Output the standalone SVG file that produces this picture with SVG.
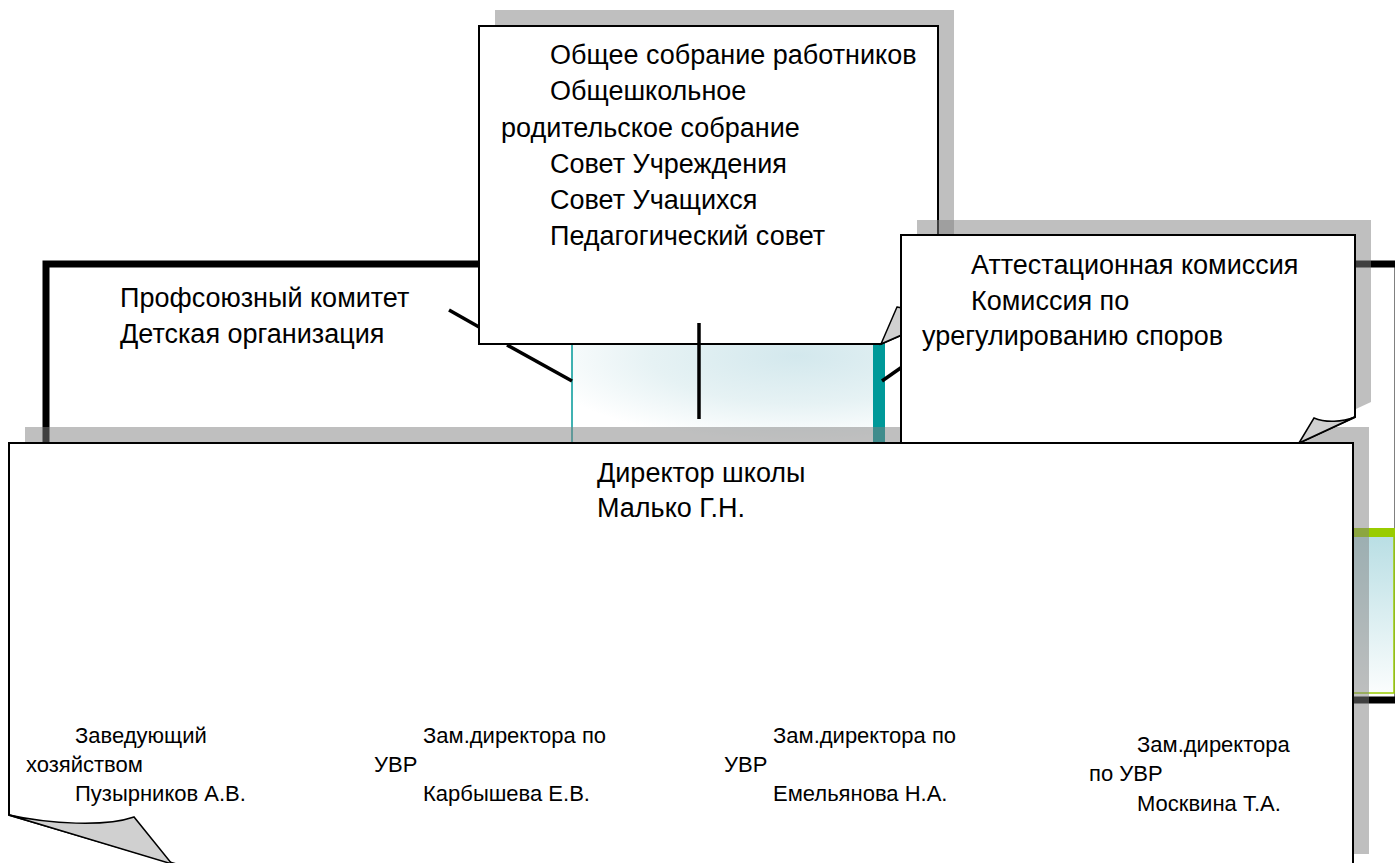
<svg xmlns="http://www.w3.org/2000/svg" width="1395" height="863" viewBox="0 0 1395 863">
  <style>
    .t { font-family: "Liberation Sans", Arial, sans-serif; font-size: 27px; fill: #000; }
    .s { font-family: "Liberation Sans", Arial, sans-serif; font-size: 22px; fill: #000; }
    .box { fill: #fff; stroke: #000; stroke-width: 2; stroke-linejoin: miter; }
    .shadow { fill: #808080; fill-opacity: 0.5; stroke: none; }
    .fold { fill: #d0d0d0; stroke: #000; stroke-width: 1.5; stroke-linejoin: miter; }
    .conn { stroke: #000; stroke-width: 3.5; fill: none; }
  </style>
  <defs>
    <radialGradient id="tealFill" cx="0.72" cy="0.15" r="0.85">
      <stop offset="0" stop-color="#d3e8ed"/>
      <stop offset="0.55" stop-color="#e6f2f4"/>
      <stop offset="1" stop-color="#ffffff"/>
    </radialGradient>
    <linearGradient id="greenFill" x1="0" y1="0" x2="0" y2="1">
      <stop offset="0" stop-color="#b6dde3"/>
      <stop offset="1" stop-color="#fbfdfd"/>
    </linearGradient>
  </defs>

  <rect width="1395" height="863" fill="#fff"/>

  <!-- Large frame: Профсоюзный комитет / Детская организация -->
  <g id="node-profcom">
    <rect x="46" y="264" width="1352" height="436" fill="#fff" stroke="#000" stroke-width="7"/>
    <text class="t" x="120" y="307">Профсоюзный комитет</text>
    <text class="t" x="120" y="343">Детская организация</text>
  </g>

  <!-- Right green block -->
  <g id="node-green">
    <rect x="1330" y="529" width="64" height="164" fill="url(#greenFill)" stroke="#99cc00" stroke-width="1.5"/>
    <rect x="1330" y="528" width="65" height="9" fill="#99cc00"/>
  </g>

  <!-- Central teal block -->
  <g id="node-teal">
    <rect x="572" y="340" width="313" height="103" fill="url(#tealFill)"/>
    <line x1="572" y1="340" x2="572" y2="443" stroke="#009999" stroke-width="1.5"/>
    <rect x="873" y="340" width="12" height="103" fill="#009999"/>
  </g>

  <!-- Top box: collegial bodies -->
  <g id="node-councils">
    <path class="shadow" d="M495,10 H954 V303 L897,328 H495 Z"/>
    <path class="box" d="M479,26 H938 V319 L881,344 H479 Z"/>
    <path class="fold" d="M881,344 L897,307 C910,309 925,315 938,319 Z"/>
    <text class="t" x="550" y="64">Общее собрание работников</text>
    <text class="t" x="550" y="100">Общешкольное</text>
    <text class="t" x="501" y="137">родительское собрание</text>
    <text class="t" x="550" y="173">Совет Учреждения</text>
    <text class="t" x="550" y="209">Совет Учащихся</text>
    <text class="t" x="550" y="245">Педагогический совет</text>
  </g>

  <!-- Connectors -->
  <g id="connectors">
    <line class="conn" x1="449" y1="310" x2="479" y2="327"/>
    <line class="conn" x1="507" y1="345" x2="572" y2="381"/>
    <line class="conn" x1="699" y1="323" x2="699" y2="419"/>
    <line class="conn" x1="882" y1="381" x2="912" y2="360"/>
  </g>

  <!-- Director shadow -->
  <g id="director-shadow">
    <path class="shadow" d="M25,427 H1369 V854 H212 L25,799 Z"/>
  </g>

  <!-- Commissions box -->
  <g id="node-commissions">
    <path class="shadow" d="M917,220 H1371 V402 L1315,428 H917 Z"/>
    <path class="box" d="M901,235 H1355 V417 L1299,443 H901 Z"/>
    <path class="fold" d="M1299,443 L1314,418 C1326,423 1342,422 1355,417 Z"/>
    <text class="t" x="971" y="274">Аттестационная комиссия</text>
    <text class="t" x="971" y="310">Комиссия по</text>
    <text class="t" x="922" y="345">урегулированию споров</text>
  </g>

  <!-- Director box -->
  <g id="node-director">
    <path class="box" d="M9,443 H1353 V870 H196 L9,815 Z"/>
    <path class="fold" d="M9,815 C50,824 105,827 134,817 L172,864 Z"/>
    <text class="t" x="597" y="482">Директор школы</text>
    <text class="t" x="597" y="517">Малько Г.Н.</text>
  </g>

  <g id="node-zavhoz">
    <text class="s" x="75" y="743">Заведующий</text>
    <text class="s" x="26" y="772">хозяйством</text>
    <text class="s" x="75" y="801">Пузырников А.В.</text>
  </g>
  <g id="node-karbysheva">
    <text class="s" x="423" y="743">Зам.директора по</text>
    <text class="s" x="374" y="772">УВР</text>
    <text class="s" x="423" y="801">Карбышева Е.В.</text>
  </g>
  <g id="node-emelyanova">
    <text class="s" x="773" y="743">Зам.директора по</text>
    <text class="s" x="724" y="772">УВР</text>
    <text class="s" x="773" y="801">Емельянова Н.А.</text>
  </g>
  <g id="node-moskvina">
    <text class="s" x="1137" y="752">Зам.директора</text>
    <text class="s" x="1089" y="781">по УВР</text>
    <text class="s" x="1137" y="811">Москвина Т.А.</text>
  </g>
</svg>
